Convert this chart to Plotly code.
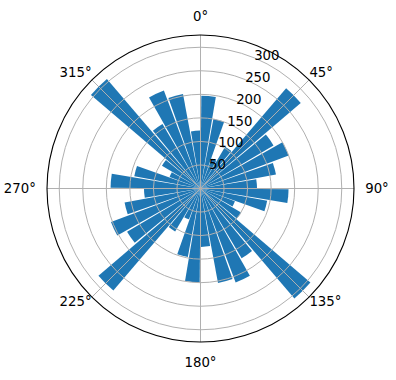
import plotly.graph_objects as go

# bar centres (degrees, clockwise from north) and radii
theta_deg = [5, 15, 25, 35, 45, 55, 65, 75, 85,
             95, 105, 115, 125, 135, 145, 155, 165, 175,
             185, 195, 205, 215, 225, 235, 245, 255, 265,
             275, 285, 295, 305, 315, 325, 335, 345, 355]
radii = [197, 150, 68, 103, 280, 180, 200, 163, 120,
         187, 144, 78, 100, 307, 172, 213, 204, 124,
         199, 148, 70, 106, 285, 181, 203, 164, 120,
         191, 143, 70, 95, 306, 159, 222, 204, 123]
r_ticks = [50, 100, 150, 200, 250, 300]
angle_ticks = [0, 45, 90, 135, 180, 225, 270, 315]
cardinal = [0, 90, 180, 270]
diagonal = [45, 135, 225, 315]

fig = go.Figure()
fig.add_trace(go.Barpolar(
    r=radii, theta=theta_deg, width=[9] * len(radii),
    marker=dict(color="#1f77b4", line=dict(width=0)),
    showlegend=False, subplot="polar",
))
# invisible traces so the overlay subplots (grid / labels) are drawn
for sp in ("polar2", "polar3", "polar4"):
    fig.add_trace(go.Scatterpolar(
        r=[0], theta=[0], mode="markers", marker=dict(opacity=0),
        showlegend=False, hoverinfo="skip", subplot=sp,
    ))

font = dict(family="DejaVu Sans", size=13.3, color="black")
domain = dict(x=[47 / 396, 354 / 396], y=[38 / 380, 345 / 380])
# radial tick labels sit slightly up-left, as matplotlib offsets them
label_domain = dict(x=[40 / 396, 347 / 396], y=[45 / 380, 352 / 380])
diag_domain = dict(x=[47 / 396, 354 / 396], y=[42 / 380, 349 / 380])

base_ang = dict(rotation=90, direction="clockwise")
base_rad = dict(range=[0, 326], tickmode="array", tickvals=r_ticks,
                ticktext=[str(v) for v in r_ticks])
hidden_ang = dict(**base_ang, showline=False, showgrid=False,
                  showticklabels=False, ticks="")
hidden_rad = dict(**base_rad, showline=False, showgrid=False,
                  showticklabels=False, ticks="")

fig.update_layout(
    width=396, height=380,
    margin=dict(l=0, r=0, t=0, b=0),
    paper_bgcolor="white",
    font=font,
    polar=dict(
        domain=domain, bgcolor="white", bargap=0,
        angularaxis=hidden_ang, radialaxis=hidden_rad,
    ),
    # grid drawn above the bars, cardinal angle labels
    polar2=dict(
        domain=domain, bgcolor="rgba(0,0,0,0)",
        angularaxis=dict(
            **base_ang,
            tickmode="array", tickvals=angle_ticks,
            ticktext=[f"{a}°" if a in cardinal else "" for a in angle_ticks],
            showline=True, linecolor="black", linewidth=1.1,
            showgrid=True, gridcolor="#b0b0b0", gridwidth=1.1,
            ticks="outside", ticklen=8, tickcolor="rgba(0,0,0,0)",
            tickfont=font,
        ),
        radialaxis=dict(
            **base_rad, angle=67.5, tickangle=67.5,
            showline=False, ticks="", showticklabels=False,
            showgrid=True, gridcolor="#b0b0b0", gridwidth=1.1,
        ),
    ),
    # radial tick labels
    polar3=dict(
        domain=label_domain, bgcolor="rgba(0,0,0,0)",
        angularaxis=hidden_ang,
        radialaxis=dict(
            **base_rad, angle=67.5, tickangle=67.5,
            showline=False, ticks="", showgrid=False,
            tickfont=font,
        ),
    ),
    # diagonal angle labels
    polar4=dict(
        domain=diag_domain, bgcolor="rgba(0,0,0,0)",
        angularaxis=dict(
            **base_ang,
            tickmode="array", tickvals=diagonal,
            ticktext=[f"{a}°" for a in diagonal],
            showline=False, showgrid=False, ticks="",
            tickfont=font,
        ),
        radialaxis=hidden_rad,
    ),
)

fig.write_html("out.html")
